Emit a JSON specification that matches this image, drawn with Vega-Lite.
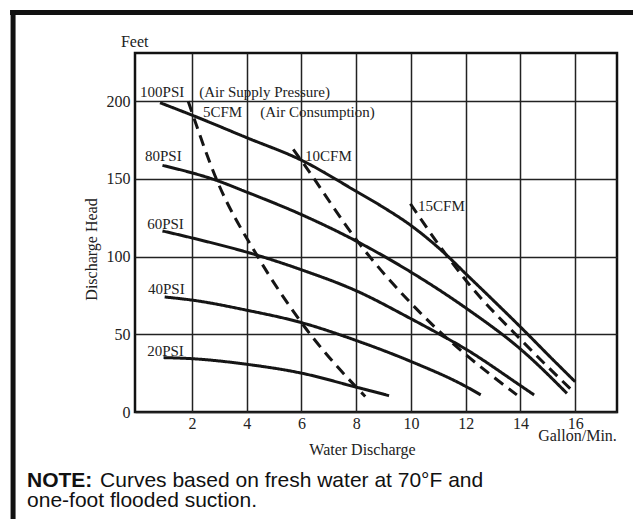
{
  "$schema": "https://vega.github.io/schema/vega-lite/v6.json",
  "width": 482,
  "height": 359,
  "autosize": {"type": "none"},
  "padding": {"left": 135, "top": 53, "right": 16, "bottom": 107},
  "background": "white",
  "config": {
    "view": {"stroke": "#111", "strokeWidth": 2.5},
    "font": "Liberation Serif"
  },
  "datasets": {
    "curves": [
      {"s": "100PSI", "k": "solid", "x": 0.83, "y": 199},
      {"s": "100PSI", "k": "solid", "x": 2, "y": 191},
      {"s": "100PSI", "k": "solid", "x": 4, "y": 176.5},
      {"s": "100PSI", "k": "solid", "x": 6, "y": 162},
      {"s": "100PSI", "k": "solid", "x": 8, "y": 142},
      {"s": "100PSI", "k": "solid", "x": 8.87, "y": 133},
      {"s": "100PSI", "k": "solid", "x": 10, "y": 120},
      {"s": "100PSI", "k": "solid", "x": 11.3, "y": 101},
      {"s": "100PSI", "k": "solid", "x": 12, "y": 89},
      {"s": "100PSI", "k": "solid", "x": 13, "y": 72},
      {"s": "100PSI", "k": "solid", "x": 14.1, "y": 53},
      {"s": "100PSI", "k": "solid", "x": 15, "y": 37},
      {"s": "100PSI", "k": "solid", "x": 16, "y": 19.5},
      {"s": "80PSI", "k": "solid", "x": 0.92, "y": 158.7},
      {"s": "80PSI", "k": "solid", "x": 2.9, "y": 149},
      {"s": "80PSI", "k": "solid", "x": 4, "y": 141.5},
      {"s": "80PSI", "k": "solid", "x": 6, "y": 127},
      {"s": "80PSI", "k": "solid", "x": 8, "y": 110},
      {"s": "80PSI", "k": "solid", "x": 10, "y": 90},
      {"s": "80PSI", "k": "solid", "x": 12, "y": 67},
      {"s": "80PSI", "k": "solid", "x": 14.1, "y": 39},
      {"s": "80PSI", "k": "solid", "x": 15.7, "y": 12},
      {"s": "60PSI", "k": "solid", "x": 0.92, "y": 116.5},
      {"s": "60PSI", "k": "solid", "x": 2, "y": 112},
      {"s": "60PSI", "k": "solid", "x": 4.36, "y": 101},
      {"s": "60PSI", "k": "solid", "x": 6, "y": 91.5},
      {"s": "60PSI", "k": "solid", "x": 8, "y": 78},
      {"s": "60PSI", "k": "solid", "x": 10, "y": 60},
      {"s": "60PSI", "k": "solid", "x": 11, "y": 50.5},
      {"s": "60PSI", "k": "solid", "x": 12, "y": 40.5},
      {"s": "60PSI", "k": "solid", "x": 14, "y": 17},
      {"s": "60PSI", "k": "solid", "x": 14.5, "y": 11},
      {"s": "40PSI", "k": "solid", "x": 1, "y": 74},
      {"s": "40PSI", "k": "solid", "x": 2, "y": 72},
      {"s": "40PSI", "k": "solid", "x": 4, "y": 65.5},
      {"s": "40PSI", "k": "solid", "x": 6, "y": 57.5},
      {"s": "40PSI", "k": "solid", "x": 8, "y": 46},
      {"s": "40PSI", "k": "solid", "x": 10, "y": 32.5},
      {"s": "40PSI", "k": "solid", "x": 12, "y": 16.5},
      {"s": "40PSI", "k": "solid", "x": 12.55, "y": 11},
      {"s": "20PSI", "k": "solid", "x": 0.96, "y": 35},
      {"s": "20PSI", "k": "solid", "x": 2, "y": 34.3},
      {"s": "20PSI", "k": "solid", "x": 4, "y": 30.7},
      {"s": "20PSI", "k": "solid", "x": 6, "y": 25},
      {"s": "20PSI", "k": "solid", "x": 8, "y": 16},
      {"s": "20PSI", "k": "solid", "x": 9.2, "y": 10.5},
      {"s": "5CFM", "k": "dashed", "x": 1.86, "y": 200},
      {"s": "5CFM", "k": "dashed", "x": 2.9, "y": 149.5},
      {"s": "5CFM", "k": "dashed", "x": 4.4, "y": 100},
      {"s": "5CFM", "k": "dashed", "x": 6, "y": 57.5},
      {"s": "5CFM", "k": "dashed", "x": 8, "y": 16},
      {"s": "5CFM", "k": "dashed", "x": 8.33, "y": 10},
      {"s": "10CFM", "k": "dashed", "x": 5.7, "y": 169},
      {"s": "10CFM", "k": "dashed", "x": 6, "y": 161.7},
      {"s": "10CFM", "k": "dashed", "x": 8.15, "y": 107.5},
      {"s": "10CFM", "k": "dashed", "x": 10, "y": 70},
      {"s": "10CFM", "k": "dashed", "x": 11, "y": 52.5},
      {"s": "10CFM", "k": "dashed", "x": 12, "y": 37},
      {"s": "10CFM", "k": "dashed", "x": 13.87, "y": 11},
      {"s": "15CFM", "k": "dashed", "x": 9.98, "y": 134},
      {"s": "15CFM", "k": "dashed", "x": 11.25, "y": 102},
      {"s": "15CFM", "k": "dashed", "x": 12.04, "y": 84},
      {"s": "15CFM", "k": "dashed", "x": 14.1, "y": 45},
      {"s": "15CFM", "k": "dashed", "x": 16, "y": 12}
    ],
    "labels": [
      {"x": 0.1, "y": 202.8, "text": "100PSI"},
      {"x": 2.26, "y": 202.8, "text": "(Air Supply Pressure)"},
      {"x": 2.4, "y": 189.7, "text": "5CFM"},
      {"x": 4.49, "y": 189.9, "text": "(Air Consumption)"},
      {"x": 0.28, "y": 161.7, "text": "80PSI"},
      {"x": 6.13, "y": 161.7, "text": "10CFM"},
      {"x": 0.36, "y": 117.5, "text": "60PSI"},
      {"x": 10.26, "y": 129.5, "text": "15CFM"},
      {"x": 0.39, "y": 75.7, "text": "40PSI"},
      {"x": 0.36, "y": 36, "text": "20PSI"}
    ],
    "units": [
      {"x": -0.6, "y": 235, "text": "Feet"},
      {"x": 14.65, "y": -18.5, "text": "Gallon/Min."}
    ],
    "noteBold": [
      {"x": -4.03, "y": -48, "text": "NOTE:"}
    ],
    "noteText": [
      {"x": -1.36, "y": -48, "text": "Curves based on fresh water at 70°F and"},
      {"x": -4.03, "y": -61, "text": "one-foot flooded suction."}
    ],
    "frame": [
      {"x": -4.65, "x2": 18.12, "y": 257, "y2": 257},
      {"x": -4.54, "x2": -4.54, "y": 258.6, "y2": -68.8}
    ]
  },
  "encoding": {
    "x": {
      "field": "x",
      "type": "quantitative",
      "scale": {"domain": [-0.084, 17.53], "nice": false, "zero": false},
      "axis": {
        "values": [2, 4, 6, 8, 10, 12, 14, 16],
        "grid": true,
        "gridColor": "#222",
        "gridWidth": 1.5,
        "ticks": false,
        "domain": false,
        "labelFont": "Liberation Serif",
        "labelFontSize": 16,
        "labelColor": "#222",
        "labelPadding": 3,
        "labelFlush": false,
        "title": "Water Discharge",
        "titleFont": "Liberation Serif",
        "titleFontSize": 16,
        "titleFontWeight": "normal",
        "titleColor": "#222",
        "titleX": 227,
        "titleY": 42,
        "titleBaseline": "alphabetic",
        "titleAlign": "center"
      }
    },
    "y": {
      "field": "y",
      "type": "quantitative",
      "scale": {"domain": [0, 231], "nice": false, "zero": false},
      "axis": {
        "values": [0, 50, 100, 150, 200],
        "grid": true,
        "gridColor": "#222",
        "gridWidth": 1.5,
        "ticks": false,
        "domain": false,
        "labelFont": "Liberation Serif",
        "labelFontSize": 16,
        "labelColor": "#222",
        "labelPadding": 5,
        "labelFlush": false,
        "title": "Discharge Head",
        "titleFont": "Liberation Serif",
        "titleFontSize": 16,
        "titleFontWeight": "normal",
        "titleColor": "#222",
        "titleX": -44,
        "titleY": 196,
        "titleAngle": -90,
        "titleBaseline": "middle",
        "titleAlign": "center"
      }
    }
  },
  "layer": [
    {
      "data": {"name": "curves"},
      "mark": {"type": "line", "interpolate": "monotone", "color": "#151515", "strokeWidth": 3, "strokeCap": "butt"},
      "encoding": {
        "detail": {"field": "s"},
        "strokeDash": {
          "field": "k",
          "type": "nominal",
          "scale": {"domain": ["solid", "dashed"], "range": [[1, 0], [11, 7]]},
          "legend": null
        }
      }
    },
    {
      "data": {"name": "labels"},
      "mark": {"type": "text", "align": "left", "baseline": "alphabetic", "font": "Liberation Serif", "fontSize": 15, "color": "#222"},
      "encoding": {"text": {"field": "text"}}
    },
    {
      "data": {"name": "units"},
      "mark": {"type": "text", "align": "left", "baseline": "alphabetic", "font": "Liberation Serif", "fontSize": 16, "color": "#222"},
      "encoding": {"text": {"field": "text"}}
    },
    {
      "data": {"name": "noteBold"},
      "mark": {"type": "text", "align": "left", "baseline": "alphabetic", "font": "Liberation Sans", "fontSize": 21, "fontWeight": "bold", "color": "#111"},
      "encoding": {"text": {"field": "text"}}
    },
    {
      "data": {"name": "noteText"},
      "mark": {"type": "text", "align": "left", "baseline": "alphabetic", "font": "Liberation Sans", "fontSize": 21, "color": "#111"},
      "encoding": {"text": {"field": "text"}}
    },
    {
      "data": {"name": "frame"},
      "mark": {"type": "rule", "color": "#111", "strokeWidth": 5},
      "encoding": {"x2": {"field": "x2"}, "y2": {"field": "y2"}}
    }
  ]
}
